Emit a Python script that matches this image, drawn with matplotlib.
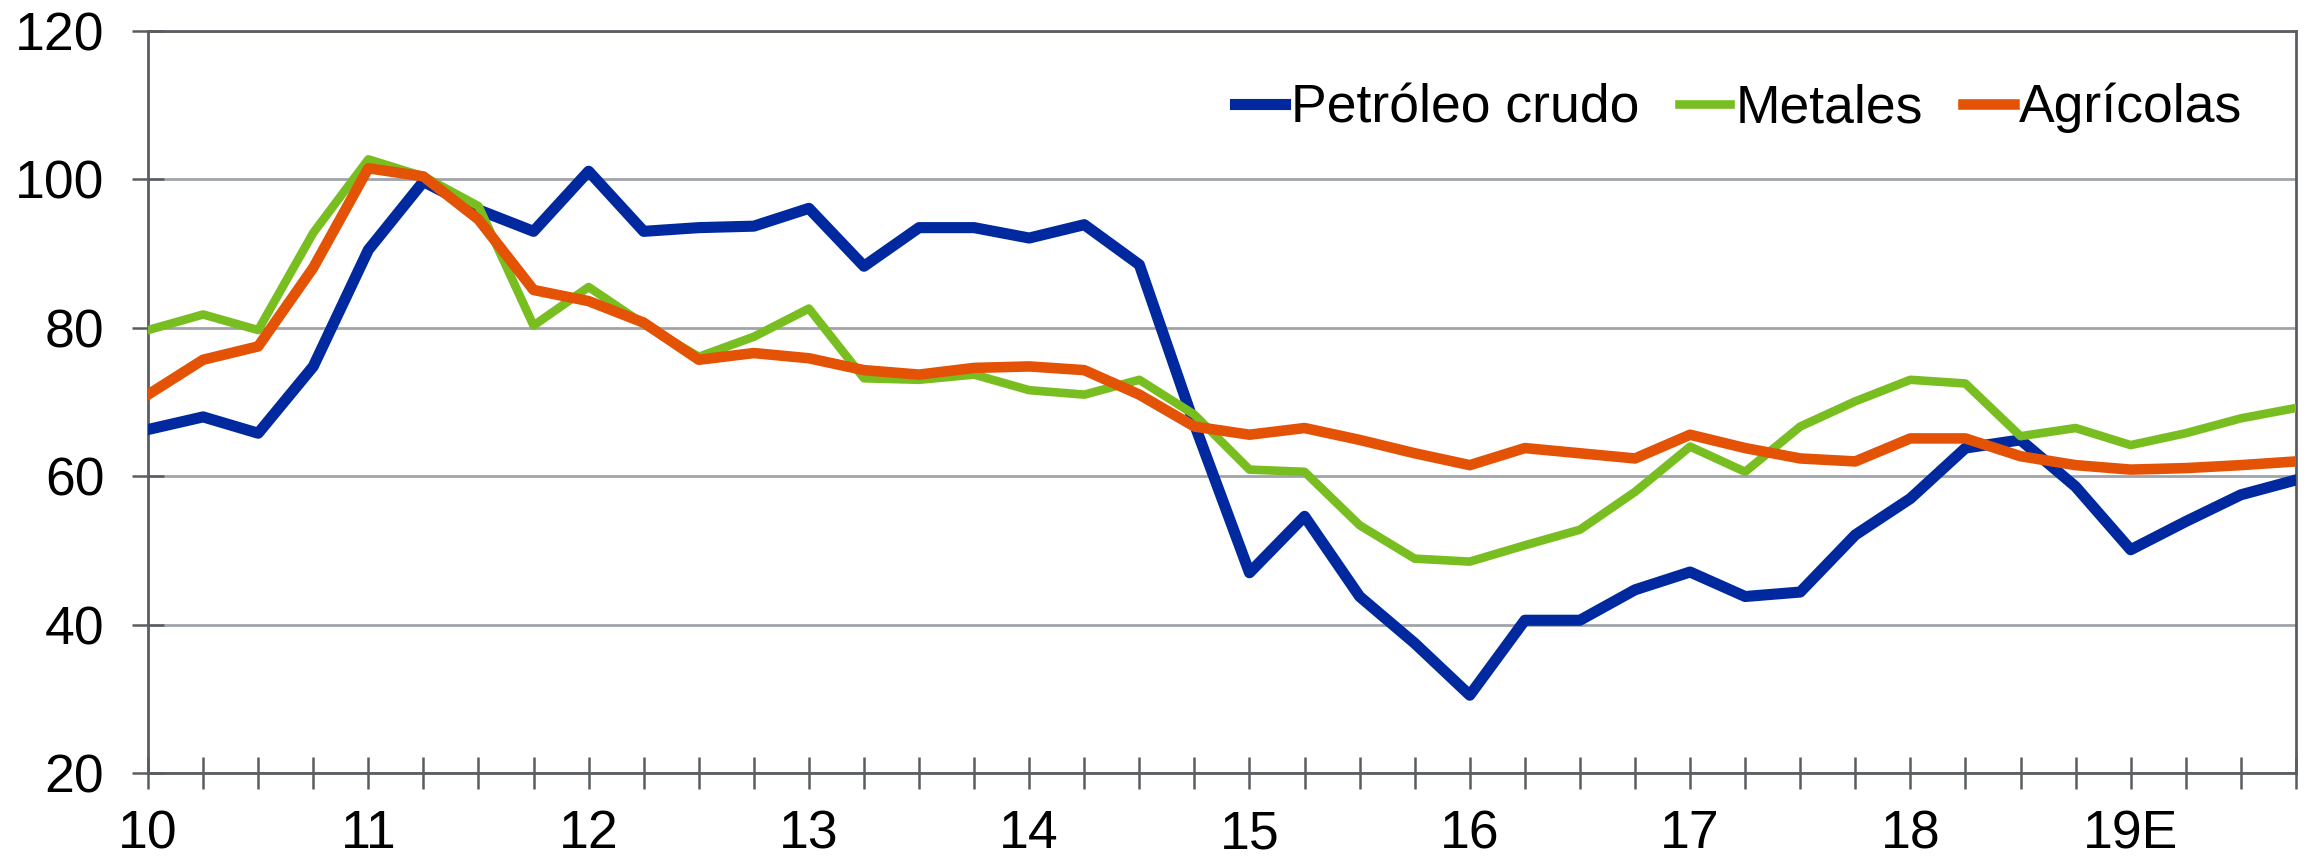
import matplotlib
matplotlib.use("Agg")
import matplotlib.pyplot as plt
from matplotlib.ticker import MultipleLocator, FixedLocator

plt.rcParams['font.family'] = ['Liberation Sans', 'DejaVu Sans']

# quarterly, 2010Q1 .. 2019Q4 (19 = estimate)
quarters = [10 + 0.25 * i for i in range(40)]
year_ticks = [10, 11, 12, 13, 14, 15, 16, 17, 18, 19]
year_labels = ['10', '11', '12', '13', '14', '15', '16', '17', '18', '19E']

petroleo = [66.3, 68.0, 65.8, 74.8, 90.5, 99.7, 95.9, 93.0,
            101.1, 93.0, 93.5, 93.7, 96.1, 88.3, 93.5, 93.5,
            92.1, 93.9, 88.5, 67.0, 47.0, 54.6, 43.8, 37.5,
            30.5, 40.6, 40.6, 44.7, 47.1, 43.8, 44.4, 52.1,
            57.0, 63.8, 64.9, 58.6, 50.1, 53.9, 57.5, 59.5]
metales = [79.7, 81.8, 79.7, 92.8, 102.7, 100.4, 96.4, 80.3,
           85.5, 80.5, 76.1, 78.8, 82.6, 73.2, 73.0, 73.7,
           71.6, 71.0, 73.0, 68.3, 60.9, 60.6, 53.4, 48.9,
           48.5, 50.7, 52.8, 57.9, 64.0, 60.6, 66.7, 70.1,
           73.0, 72.5, 65.4, 66.5, 64.2, 65.8, 67.8, 69.2]
agricolas = [71.0, 75.7, 77.5, 88.1, 101.5, 100.4, 94.6, 85.1,
             83.6, 80.7, 75.7, 76.6, 75.9, 74.3, 73.7, 74.6,
             74.8, 74.3, 71.0, 66.7, 65.6, 66.5, 64.9, 63.1,
             61.5, 63.8, 63.1, 62.4, 65.6, 63.8, 62.4, 62.0,
             65.1, 65.1, 62.7, 61.5, 60.9, 61.1, 61.5, 62.0]

fig = plt.figure(figsize=(23.13, 8.6), dpi=100)
ax = fig.add_axes([0.064, 0.101, 0.9286, 0.863])

ax.plot(quarters, petroleo, color='#0029A0', lw=8.0, label='Petróleo crudo', zorder=3)
ax.plot(quarters, metales, color='#78BE21', lw=6.2, label='Metales', zorder=3)
ax.plot(quarters, agricolas, color='#E35205', lw=7.6, label='Agrícolas', zorder=3)

ax.set_xlim(10, 19.75)
ax.set_ylim(20, 120)
ax.yaxis.set_major_locator(MultipleLocator(20))
ax.xaxis.set_major_locator(FixedLocator(year_ticks))
ax.xaxis.set_minor_locator(MultipleLocator(0.25))
ax.set_xticklabels(year_labels)

ax.grid(axis='y', color='#a0a4a8', lw=2.0, zorder=0)
for s in ax.spines.values():
    s.set_color('#595d61')
    s.set_linewidth(2.0)

ax.tick_params(axis='both', which='both', direction='inout', length=23,
               width=1.8, color='#595d61', labelsize=38.5, labelcolor='black')
ax.tick_params(axis='x', pad=14.5)
ax.tick_params(axis='y', pad=20)

ax.legend(loc='center right', bbox_to_anchor=(0.975, 0.896), ncol=3,
          frameon=False, fontsize=38.5, borderpad=0, borderaxespad=0,
          handlelength=0.95, handletextpad=0.1, columnspacing=0.75)

fig.savefig('out.png', dpi=100)
